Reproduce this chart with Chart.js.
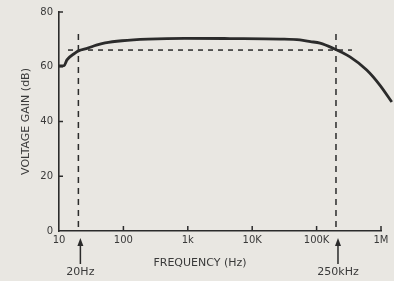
<!DOCTYPE html>
<html>
<head>
<meta charset="utf-8">
<script src="https://cdn.jsdelivr.net/npm/chart.js@4/dist/chart.umd.min.js"></script>
<style>
  html, body { margin: 0; padding: 0; background: #e9e7e2; }
  canvas { display: block; }
</style>
</head>
<body>
<canvas id="chart" width="394" height="281"></canvas>
<script>
// frequency response
const freqs = [10, 12, 13.3, 17.7, 20, 28, 38, 52, 95, 240, 900, 4500, 27000, 55000, 80000, 113000, 178000, 330000, 600000, 960000, 1470000];
const gains = [60.3, 60.4, 62.5, 65, 65.8, 66.8, 67.9, 68.7, 69.5, 70.1, 70.4, 70.3, 70.1, 69.8, 69.2, 68.6, 66.8, 63.6, 58.8, 53.3, 47.1];

const decadeTicks = [10, 100, 1000, 10000, 100000, 1000000];
const decadeLabels = ['10', '100', '1k', '10K', '100K', '1M'];
const gainTicks = [0, 20, 40, 60, 80];

// -3dB markers
const markerFreqs = [20, 200000];
const markerLabels = ['20Hz', '250kHz'];
const cutoffGain = 66.1;
const cutoffSpan = [13.8, 354000];
const markerTop = 72;

const ink = '#2b2b2b';
const textCol = '#3a3a3a';
const fontFamily = '"DejaVu Sans", sans-serif';

const paper = {
    id: 'paper',
    beforeDraw(chart) {
        const ctx = chart.ctx;
        ctx.save();
        ctx.fillStyle = '#e9e7e2';
        ctx.fillRect(0, 0, chart.width, chart.height);
        ctx.restore();
    }
};

const guides = {
    id: 'guides',
    beforeDatasetsDraw(chart) {
        const ctx = chart.ctx;
        const xs = chart.scales.x;
        const ys = chart.scales.y;
        const area = chart.chartArea;

        ctx.save();
        ctx.strokeStyle = ink;
        ctx.lineWidth = 1.5;

        // inward tick marks
        gainTicks.forEach(v => {
            if (v === 0) return;
            const y = ys.getPixelForValue(v);
            ctx.beginPath();
            ctx.moveTo(area.left, y);
            ctx.lineTo(area.left + 4, y);
            ctx.stroke();
        });
        decadeTicks.forEach(v => {
            if (v === 10) return;
            const x = xs.getPixelForValue(v);
            ctx.beginPath();
            ctx.moveTo(x, area.bottom);
            ctx.lineTo(x, area.bottom - 5);
            ctx.stroke();
        });

        // dashed guide lines
        ctx.setLineDash([6, 5]);
        markerFreqs.forEach(f => {
            const x = xs.getPixelForValue(f);
            ctx.beginPath();
            ctx.moveTo(x, ys.getPixelForValue(markerTop));
            ctx.lineTo(x, ys.getPixelForValue(0));
            ctx.stroke();
        });
        ctx.setLineDash([5, 5]);
        const yc = ys.getPixelForValue(cutoffGain);
        ctx.beginPath();
        ctx.moveTo(xs.getPixelForValue(cutoffSpan[0]), yc);
        ctx.lineTo(xs.getPixelForValue(cutoffSpan[1]), yc);
        ctx.stroke();
        ctx.setLineDash([]);

        // arrows + labels under the axis
        ctx.fillStyle = ink;
        markerFreqs.forEach((f, i) => {
            const x = xs.getPixelForValue(f) + 2;
            const tip = area.bottom + 7;
            ctx.beginPath();
            ctx.moveTo(x, tip + 6);
            ctx.lineTo(x, tip + 26);
            ctx.stroke();
            ctx.beginPath();
            ctx.moveTo(x, tip);
            ctx.lineTo(x - 3, tip + 8);
            ctx.lineTo(x + 3, tip + 8);
            ctx.closePath();
            ctx.fill();

            ctx.fillStyle = textCol;
            ctx.font = '11px ' + fontFamily;
            ctx.textAlign = 'center';
            ctx.textBaseline = 'middle';
            ctx.fillText(markerLabels[i], x, area.bottom + 41);
            ctx.fillStyle = ink;
        });

        // x axis title
        ctx.fillStyle = textCol;
        ctx.font = '11px ' + fontFamily;
        ctx.textAlign = 'center';
        ctx.textBaseline = 'middle';
        ctx.fillText('FREQUENCY (Hz)', 200, 263);
        ctx.restore();
    }
};

new Chart(document.getElementById('chart'), {
    type: 'line',
    data: {
        datasets: [{
            data: freqs.map((f, i) => ({ x: f, y: gains[i] })),
            borderColor: ink,
            borderWidth: 2.8,
            pointRadius: 0,
            cubicInterpolationMode: 'monotone',
            clip: false,
            fill: false
        }]
    },
    options: {
        responsive: false,
        animation: false,
        devicePixelRatio: 1,
        layout: {
            padding: { top: 12, right: 13, bottom: 30, left: 0 }
        },
        plugins: {
            legend: { display: false },
            tooltip: { enabled: false }
        },
        scales: {
            x: {
                type: 'logarithmic',
                min: 10,
                max: 1000000,
                afterBuildTicks: scale => {
                    scale.ticks = decadeTicks.map(v => ({ value: v }));
                },
                afterFit: scale => { scale.height = 20; },
                grid: { display: true, drawOnChartArea: false, drawTicks: false },
                border: { display: true, color: ink, width: 1.6 },
                ticks: {
                    autoSkip: false,
                    maxRotation: 0,
                    padding: 3,
                    color: textCol,
                    font: { family: fontFamily, size: 10 },
                    callback: (value) => {
                        const i = decadeTicks.indexOf(value);
                        return i >= 0 ? decadeLabels[i] : '';
                    }
                }
            },
            y: {
                min: 0,
                max: 80,
                afterBuildTicks: scale => {
                    scale.ticks = gainTicks.map(v => ({ value: v }));
                },
                afterFit: scale => { scale.width = 59; },
                grid: { display: true, drawOnChartArea: false, drawTicks: false },
                border: { display: true, color: ink, width: 1.6 },
                ticks: {
                    padding: 6,
                    color: textCol,
                    font: { family: fontFamily, size: 10 }
                },
                title: {
                    display: true,
                    text: 'VOLTAGE GAIN (dB)',
                    color: textCol,
                    font: { family: fontFamily, size: 11 },
                    padding: { top: 20, bottom: 0 }
                }
            }
        }
    },
    plugins: [paper, guides]
});
</script>
</body>
</html>
